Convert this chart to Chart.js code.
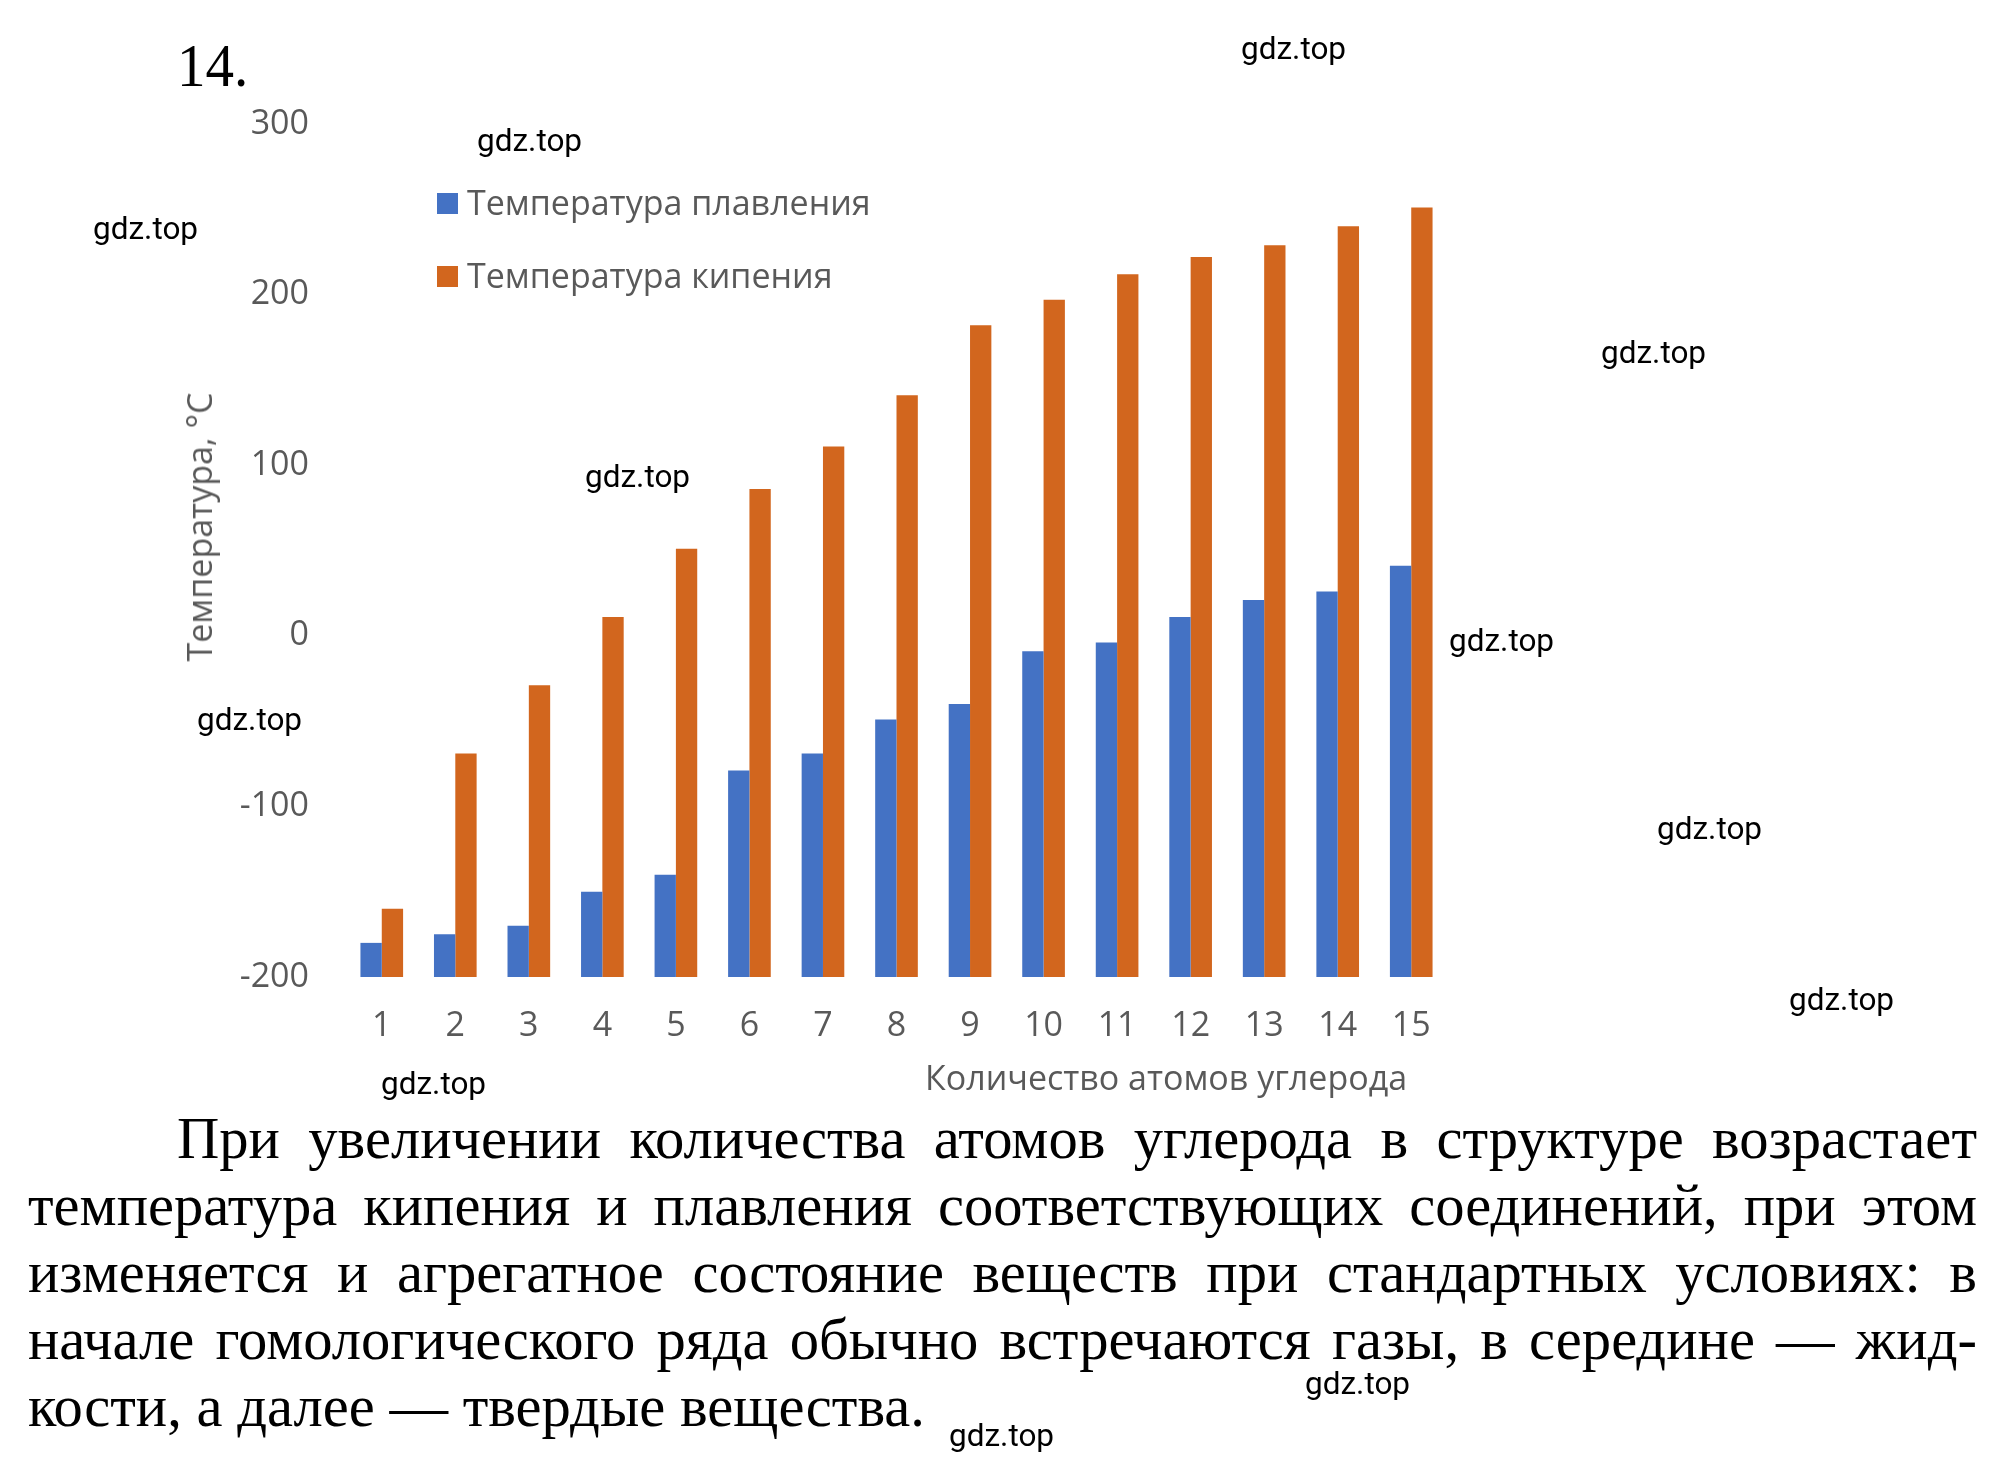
<!DOCTYPE html>
<html lang="ru">
<head>
<meta charset="utf-8">
<title>14.</title>
<script src="https://cdn.jsdelivr.net/npm/chart.js@4"></script>
<style>
    html, body { margin: 0; padding: 0; background: #fff; }
    body { position: relative; width: 2013px; height: 1474px; overflow: hidden; }
    #chart { position: absolute; left: 0; top: 0; }
    .chart-text { position: absolute; font-family: "Open Sans", sans-serif; color: #595959; white-space: nowrap; }
    .legend-box { position: absolute; width: 21px; height: 21px; }
    .mark { position: absolute; font: 31.5px Roboto, sans-serif; color: #000; transform: translateY(-50%); }
    .number { position: absolute; left: 177px; top: 30px; font: 62px "Liberation Serif", serif; color: #000;
        transform: scaleX(0.92); transform-origin: left; }
    .line { position: absolute; left: 28px; width: 1949px; font: 58.6px "Liberation Serif", serif; color: #000;
        text-align: justify; text-align-last: justify; white-space: nowrap; }
</style>
</head>
<body>
<canvas id="chart" width="2013" height="1474"></canvas>
<div class="number">14.</div>
<div id="legend"></div>
<div class="chart-text" style="left:199px;top:527px;font-size:34px;transform:translate(-50%,-50%) rotate(-90deg);">Температура, °С</div>
<div class="chart-text" style="left:925px;top:1054px;font-size:34px;">Количество атомов углерода</div>
<div id="body-text"></div>
<div id="marks"></div>
<script>
// Chart data
const carbonAtoms = ['1', '2', '3', '4', '5', '6', '7', '8', '9', '10', '11', '12', '13', '14', '15'];
const meltingPoints = [-180, -175, -170, -150, -140, -79, -69, -49, -40, -9, -4, 11, 21, 26, 41];
const boilingPoints = [-160, -69, -29, 11, 51, 86, 111, 141, 182, 197, 212, 222, 229, 240, 251];
const seriesNames = ['Температура плавления', 'Температура кипения'];
const seriesColors = ['#4472C4', '#D2661E'];

// Text under the chart
const bodyLines = [
    'При увеличении количества атомов углерода в структуре возрастает',
    'температура кипения и плавления соответствующих соединений, при этом',
    'изменяется и агрегатное состояние веществ при стандартных условиях: в',
    'начале гомологического ряда обычно встречаются газы, в середине — жид-',
    'кости, а далее — твердые вещества.'
];

// Watermark positions
const markX = [1241, 477, 93, 1601, 585, 1449, 197, 1657, 1789, 381, 1305, 949];
const markY = [48, 140, 228, 352, 476, 640, 719, 828, 999, 1083, 1383, 1435];

new Chart(document.getElementById('chart'), {
    type: 'bar',
    data: {
        labels: carbonAtoms,
        datasets: [
            { label: seriesNames[0], data: meltingPoints, backgroundColor: seriesColors[0], base: -200 },
            { label: seriesNames[1], data: boilingPoints, backgroundColor: seriesColors[1], base: -200 }
        ]
    },
    options: {
        responsive: false,
        animation: false,
        devicePixelRatio: 1,
        layout: { padding: { top: 124, right: 565 } },
        datasets: { bar: { categoryPercentage: 0.58, barPercentage: 1 } },
        plugins: { legend: { display: false }, tooltip: { enabled: false } },
        scales: {
            x: {
                grid: { display: false },
                border: { display: false },
                ticks: { color: '#595959', font: { family: 'Open Sans', size: 34 }, padding: 21, maxRotation: 0, autoSkip: false },
                afterFit: (scale) => { scale.height = 497; }
            },
            y: {
                min: -200,
                max: 300,
                grid: { display: false },
                border: { display: false },
                ticks: { stepSize: 100, color: '#595959', font: { family: 'Open Sans', size: 34 }, padding: 28 },
                afterFit: (scale) => { scale.width = 345; }
            }
        }
    }
});

// Legend
const legend = document.getElementById('legend');
seriesNames.forEach((name, i) => {
    const top = 203 + i * 73;
    const box = document.createElement('div');
    box.className = 'legend-box';
    box.style.cssText = `left:437px;top:${top - 10}px;background:${seriesColors[i]}`;
    legend.appendChild(box);
    const text = document.createElement('div');
    text.className = 'chart-text';
    text.style.cssText = `left:467px;top:${top - 24}px;font-size:34px`;
    text.textContent = name;
    legend.appendChild(text);
});

// Paragraph lines
const bodyText = document.getElementById('body-text');
bodyLines.forEach((line, i) => {
    const div = document.createElement('div');
    div.className = 'line';
    div.style.top = (1105 + i * 67) + 'px';
    if (i === 0) {
        div.style.left = '177px';
        div.style.width = '1800px';
    }
    if (i === bodyLines.length - 1) {
        div.style.textAlignLast = 'left';
    }
    div.textContent = line;
    bodyText.appendChild(div);
});

// Watermarks
const marks = document.getElementById('marks');
markX.forEach((x, i) => {
    const div = document.createElement('div');
    div.className = 'mark';
    div.style.left = x + 'px';
    div.style.top = markY[i] + 'px';
    div.textContent = 'gdz.top';
    marks.appendChild(div);
});
</script>
</body>
</html>
